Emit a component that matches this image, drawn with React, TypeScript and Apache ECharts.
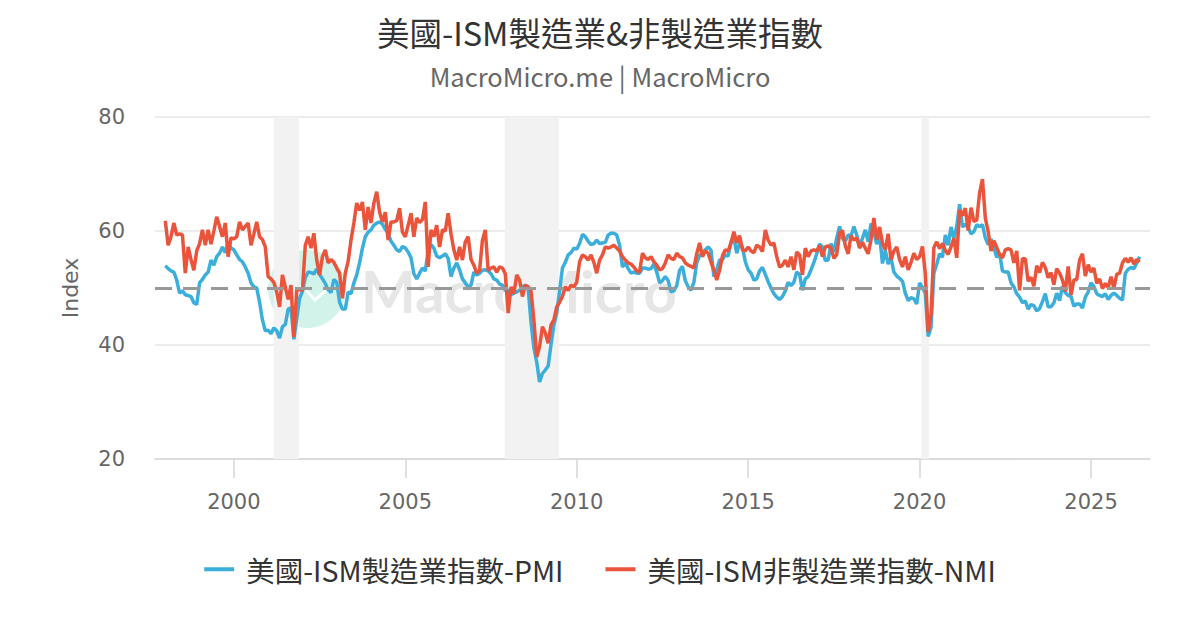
import React, { useEffect, useRef } from "react";
import * as echarts from "echarts";

// ---- data (monthly, starting 1998-01) ----
const startYear = 1998;

const pmi: number[] = [
  // 1998
  53.9, 53.4, 53.0, 52.8, 51.4, 49.1, 49.5, 48.8, 48.7, 48.5, 47.4, 47.1,
  // 1999
  50.9, 51.5, 52.3, 52.8, 54.9, 54.0, 55.5, 56.1, 57.2, 56.2, 57.9, 57.0,
  // 2000
  56.7, 55.8, 55.0, 54.6, 53.7, 52.6, 50.9, 50.2, 50.0, 47.5, 44.4, 42.5,
  // 2001
  42.6, 42.0, 43.0, 42.5, 41.2, 43.2, 43.6, 46.3, 46.5, 41.0, 44.5, 48.2,
  // 2002
  49.4, 51.8, 52.8, 52.7, 52.5, 53.3, 52.4, 51.6, 50.8, 49.7, 49.2, 51.5,
  // 2003
  51.0, 47.5, 46.3, 46.3, 49.3, 49.0, 50.9, 52.3, 54.4, 57.0, 59.0, 59.8,
  // 2004
  60.2, 61.0, 61.4, 61.6, 61.2, 60.3, 59.6, 58.2, 57.5, 56.7, 56.4, 57.3,
  // 2005
  57.0, 56.3, 55.3, 52.5, 51.6, 52.6, 53.5, 53.0, 56.5, 57.6, 57.0, 55.6,
  // 2006
  55.3, 55.6, 56.0, 55.2, 52.0, 53.5, 54.4, 53.2, 51.6, 50.9, 50.2, 50.5,
  // 2007
  52.8, 52.3, 52.6, 53.1, 53.2, 53.0, 52.5, 51.6, 51.4, 50.7, 50.5, 49.6,
  // 2008
  49.6, 48.8, 49.1, 49.3, 49.6, 50.2, 50.5, 49.9, 44.0, 39.5, 37.0, 33.5,
  // 2009
  35.0, 35.6, 36.3, 40.1, 43.5, 45.6, 49.5, 53.5, 54.5, 55.8, 56.2, 57.0,
  // 2010
  56.8, 57.8, 59.4, 59.0, 58.2, 57.6, 57.8, 58.4, 57.8, 57.9, 58.0, 59.3,
  // 2011
  59.6, 59.6, 59.3, 57.5, 53.7, 54.4, 53.4, 52.6, 52.8, 52.6, 52.6, 53.5,
  // 2012
  53.5, 53.3, 53.4, 54.2, 52.8, 50.9, 51.3, 52.0, 51.3, 49.3, 49.5, 50.4,
  // 2013
  53.1, 53.8, 51.3, 50.2, 49.6, 51.0, 54.4, 55.7, 56.2, 56.7, 57.2, 56.6,
  // 2014
  52.0, 53.2, 54.9, 55.0, 55.8, 55.6, 58.1, 58.8, 56.1, 57.9, 57.2, 54.6,
  // 2015
  53.2, 52.6, 51.4, 51.6, 53.0, 53.6, 52.4, 51.1, 50.0, 49.0, 48.4, 48.0,
  // 2016
  48.5, 49.5, 51.0, 50.4, 51.0, 52.8, 52.4, 49.6, 51.6, 52.0, 53.2, 54.5,
  // 2017
  56.0, 57.7, 57.2, 54.8, 54.9, 57.8, 56.3, 58.8, 60.8, 58.7, 58.2, 59.3,
  // 2018
  59.1, 60.8, 59.3, 57.3, 58.7, 60.2, 58.1, 61.3, 59.8, 57.7, 59.3, 54.3,
  // 2019
  56.6, 54.2, 55.3, 52.8, 52.1, 51.7, 51.2, 49.1, 47.8, 48.3, 48.1, 47.2,
  // 2020
  50.9, 50.1, 49.1, 41.5, 43.1, 52.6, 54.2, 56.0, 55.4, 59.3, 57.5, 60.7,
  // 2021
  58.7, 60.8, 64.7, 60.7, 61.2, 60.6, 59.5, 59.9, 61.1, 60.8, 61.1, 58.8,
  // 2022
  57.6, 58.6, 57.1, 55.4, 56.1, 53.0, 52.8, 52.8, 50.9, 50.2, 49.0, 48.4,
  // 2023
  47.4, 47.7, 46.3, 47.1, 46.9, 46.0, 46.4, 47.6, 49.0, 46.7, 46.7, 47.4,
  // 2024
  49.1, 47.8, 50.3, 49.2, 48.7, 48.5, 46.8, 47.2, 47.2, 46.5, 48.4, 49.3,
  // 2025
  50.9, 50.3, 49.0, 48.7, 48.5, 49.0, 48.0, 48.7, 49.1, 48.7, 48.2, 47.9,
  // 2026
  52.6, 53.3, 53.6, 53.4, 54.4, 55.5,
];

const nmi: number[] = [
  // 1998
  61.8, 57.5, 59.0, 61.4, 59.3, 59.5, 59.3, 52.6, 57.2, 55.0, 53.1, 56.5,
  // 1999
  57.8, 60.2, 57.5, 60.2, 57.7, 60.0, 62.5, 60.8, 59.0, 61.4, 55.5, 58.8,
  // 2000
  58.6, 59.0, 61.6, 60.2, 60.8, 61.4, 57.5, 59.5, 61.6, 59.0, 58.5, 57.2,
  // 2001
  52.0, 51.6, 51.0, 49.3, 46.7, 52.3, 50.2, 48.0, 50.5, 41.4, 49.6, 49.8,
  // 2002
  49.6, 57.5, 59.0, 57.0, 59.6, 54.9, 52.3, 55.5, 56.7, 54.4, 55.0, 54.5,
  // 2003
  53.5, 52.6, 48.2, 52.6, 54.7, 58.4, 61.4, 64.9, 63.6, 65.1, 60.2, 64.2,
  // 2004
  61.4, 64.9, 66.9, 63.3, 61.6, 63.3, 58.4, 61.6, 61.6, 61.8, 64.0, 59.8,
  // 2005
  59.0, 61.0, 63.1, 59.0, 62.3, 61.5, 62.0, 65.1, 53.7, 60.2, 59.0, 61.0,
  // 2006
  57.2, 60.2, 60.0, 63.1, 59.5, 56.7, 54.9, 57.2, 54.9, 58.1, 59.0, 55.0,
  // 2007
  54.0, 52.6, 53.1, 58.4, 60.2, 53.1, 53.5, 53.7, 52.8, 53.7, 53.5, 52.5,
  // 2008
  45.6, 50.2, 49.0, 52.3, 51.4, 48.5, 50.5, 50.2, 49.5, 44.4, 37.9, 39.7,
  // 2009
  43.2, 42.1, 40.3, 43.5, 44.4, 46.7, 47.5, 48.5, 50.2, 49.6, 50.5, 50.2,
  // 2010
  51.0, 54.6, 55.8, 55.5, 54.9, 55.8, 54.5, 52.6, 54.9, 55.8, 57.2, 57.0,
  // 2011
  57.2, 57.5, 57.0, 56.5, 55.5, 54.9, 54.4, 54.2, 53.7, 53.0, 52.8, 56.1,
  // 2012
  55.3, 55.0, 55.5, 54.6, 54.0, 53.2, 53.4, 54.4, 55.8, 55.2, 55.0, 56.1,
  // 2013
  55.5, 55.3, 54.4, 54.0, 53.8, 53.5, 56.0, 57.9, 55.5, 56.5, 56.1, 54.5,
  // 2014
  53.2, 51.4, 53.1, 55.6, 56.7, 56.5, 57.9, 59.9, 57.9, 59.2, 56.7, 56.5,
  // 2015
  57.2, 56.5, 56.2, 57.5, 57.2, 56.4, 60.2, 58.4, 57.5, 57.9, 55.5, 53.7,
  // 2016
  54.0, 54.9, 53.7, 55.5, 53.2, 56.3, 55.8, 52.3, 57.0, 55.5, 56.5, 56.7,
  // 2017
  56.5, 57.4, 55.5, 57.2, 57.4, 57.0, 55.2, 55.9, 59.6, 60.1, 57.4, 56.0,
  // 2018
  59.2, 58.4, 58.8, 57.0, 58.0, 57.0, 56.0, 58.5, 62.3, 58.5, 60.7, 57.9,
  // 2019
  56.7, 59.5, 54.9, 56.5, 57.2, 55.0, 53.7, 55.5, 53.2, 54.5, 56.1, 55.0,
  // 2020
  55.5, 57.3, 52.5, 42.3, 45.4, 57.1, 58.1, 56.9, 57.8, 56.6, 55.9, 57.2,
  // 2021
  58.7, 55.3, 63.7, 62.7, 64.0, 60.1, 64.1, 61.7, 61.9, 66.7, 69.1, 62.3,
  // 2022
  59.9, 56.5, 58.3, 57.1, 55.9, 55.3, 56.7, 56.9, 56.7, 54.4, 56.5, 49.6,
  // 2023
  55.2, 55.1, 51.2, 51.9, 50.3, 53.9, 52.7, 54.5, 53.6, 51.8, 52.7, 50.6,
  // 2024
  53.4, 52.6, 51.4, 49.4, 53.8, 48.8, 51.4, 51.5, 54.9, 56.0, 52.1, 54.1,
  // 2025
  52.8, 53.5, 50.8, 51.6, 49.9, 50.8, 50.1, 52.0, 50.0, 52.4, 52.6, 54.4,
  // 2026
  55.2, 54.5, 55.3, 54.2, 55.0, 54.6,
];

const seriesNames = ["美國-ISM製造業指數-PMI", "美國-ISM非製造業指數-NMI"];
const seriesColors = ["#3caedb", "#e9543a"];
const xTickYears = [2000, 2005, 2010, 2015, 2020, 2025];
// recession bands, in decimal years
const recessionBands: [number, number][] = [
  [2001.16, 2001.9],
  [2007.9, 2009.48],
  [2020.05, 2020.27],
];
const xRange = [1997.7, 2026.72];
const referenceLevel = 50;

const axisFont = "'DejaVu Sans', Verdana, sans-serif";
const cjkFont = "'Noto Sans CJK TC', sans-serif";

// month index -> decimal year position on the value axis
function monthPos(i: number): number {
  return startYear + i / 12;
}

export default function App() {
  const ref = useRef<HTMLDivElement>(null);

  useEffect(() => {
    document.body.style.margin = "0";
    if (!ref.current) return;
    const chart = echarts.init(ref.current, null, { renderer: "svg" });
    const pmiData = pmi.map((v, i) => [monthPos(i), v]);
    const nmiData = nmi.map((v, i) => [monthPos(i), v]);

    chart.setOption({
      animation: false,
      backgroundColor: "#ffffff",
      title: [
        {
          text: "美國-ISM製造業&非製造業指數",
          left: "center",
          top: 10,
          textStyle: {
            fontFamily: cjkFont,
            fontSize: 32.5,
            fontWeight: "normal",
            color: "#333333",
          },
        },
        {
          text: "MacroMicro.me | MacroMicro",
          left: "center",
          top: 58,
          textStyle: {
            fontFamily: cjkFont,
            fontSize: 25.5,
            fontWeight: "normal",
            color: "#666666",
          },
        },
      ],
      graphic: [
        {
          type: "group",
          silent: true,
          z: 0,
          children: [
            {
              type: "circle",
              shape: { cx: 307, cy: 289, r: 39 },
              style: { fill: "#d2f3ea" },
            },
            {
              type: "polyline",
              shape: {
                points: [
                  [290, 296],
                  [302, 286],
                  [315, 300],
                  [330, 287],
                ],
              },
              style: { stroke: "#ffffff", lineWidth: 3, fill: "none" },
            },
            {
              type: "text",
              x: 361,
              y: 290,
              style: {
                text: "MacroMicro",
                fontFamily: "Lato",
                fontWeight: "bold",
                fontSize: 58,
                fill: "#e6e6e6",
                verticalAlign: "middle",
              },
            },
          ],
        },
      ],
      legend: {
        top: 550,
        left: "center",
        icon: "rect",
        itemWidth: 30,
        itemHeight: 4,
        itemGap: 42,
        textStyle: {
          fontFamily: cjkFont,
          fontSize: 28.5,
          color: "#333333",
          padding: [0, 0, 0, 7],
        },
        data: seriesNames,
      },
      grid: { left: 155, right: 50, top: 117, bottom: 171 },
      xAxis: {
        type: "value",
        min: xRange[0],
        max: xRange[1],
        axisLine: { show: true, lineStyle: { color: "#d6d6d6", width: 1.5 } },
        axisTick: {
          show: true,
          length: 19,
          lineStyle: { color: "#d6d6d6", width: 1.5 },
          customValues: xTickYears,
        },
        axisLabel: {
          margin: 32,
          fontFamily: axisFont,
          fontSize: 21,
          color: "#666666",
          customValues: xTickYears,
          formatter: (v: number) => String(Math.round(v)),
        },
        splitLine: { show: false },
      },
      yAxis: {
        type: "value",
        min: 20,
        max: 80,
        interval: 20,
        name: "Index",
        nameLocation: "middle",
        nameGap: 74,
        nameTextStyle: {
          fontFamily: axisFont,
          fontSize: 22,
          color: "#666666",
        },
        axisLine: { show: false },
        axisTick: { show: false },
        axisLabel: {
          margin: 30,
          fontFamily: axisFont,
          fontSize: 21,
          color: "#666666",
        },
        splitLine: { lineStyle: { color: "#e6e6e6", width: 1.5 } },
      },
      series: [
        {
          name: seriesNames[0],
          type: "line",
          data: pmiData,
          showSymbol: false,
          symbol: "none",
          color: seriesColors[0],
          lineStyle: { width: 3.5, color: seriesColors[0] },
          z: 3,
          markArea: {
            silent: true,
            itemStyle: { color: "#f2f2f2" },
            data: recessionBands.map(([a, b]) => [{ xAxis: a }, { xAxis: b }]),
          },
          markLine: {
            silent: true,
            symbol: "none",
            label: { show: false },
            lineStyle: { color: "#999999", width: 3, type: [17, 11] },
            data: [{ yAxis: referenceLevel }],
          },
        },
        {
          name: seriesNames[1],
          type: "line",
          data: nmiData,
          showSymbol: false,
          symbol: "none",
          color: seriesColors[1],
          lineStyle: { width: 3.5, color: seriesColors[1] },
          z: 4,
        },
      ],
    });

    return () => chart.dispose();
  }, []);

  return <div ref={ref} style={{ width: 1200, height: 630 }} />;
}
